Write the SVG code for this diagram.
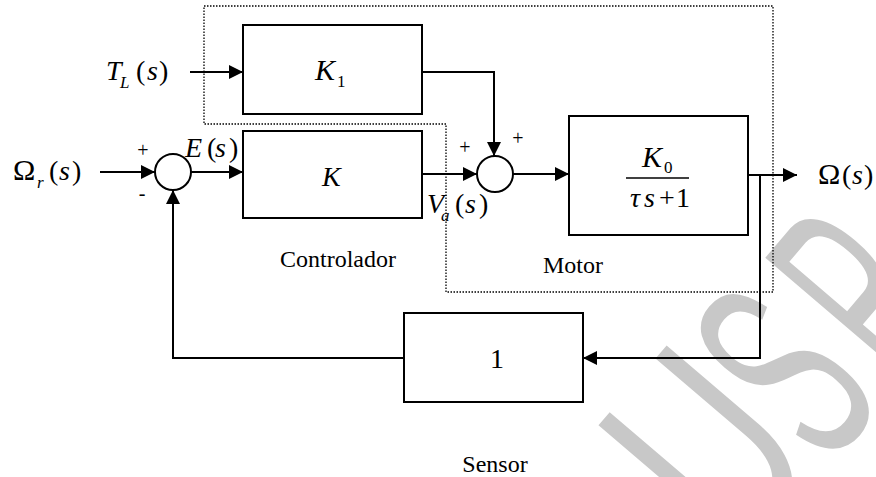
<svg xmlns="http://www.w3.org/2000/svg" width="876" height="477" viewBox="0 0 876 477">
<style>
.ln{fill:none;stroke:#000;stroke-width:2}
.bx{fill:none;stroke:#000;stroke-width:2}
.dot{fill:none;stroke:#000;stroke-width:1.3;stroke-dasharray:1.5 1.5}
.t{fill:#000;font-size:28px}
.i{font-style:italic}
.sub{font-size:17px}
.lbl{fill:#000;font-size:24px}
.sg{fill:#000;font-size:20px;text-anchor:middle}
.wm{font-size:280px;fill:#c8c8c8}
</style>
<defs>
<marker id="ah" viewBox="0 0 14 14" refX="14" refY="7" markerWidth="14" markerHeight="14" markerUnits="userSpaceOnUse" orient="auto"><path d="M0,0L14,7L0,14z" fill="#000"/></marker>
</defs>
<rect width="876" height="477" fill="#fff"/>
<g id="watermark" font-family="Liberation Sans, Arial, sans-serif">
<text class="wm" transform="translate(735.7,561.2) rotate(-49.5) scale(0.66,1)">U</text>
<text class="wm" transform="translate(827.1,469.6) rotate(-49.5) scale(0.5,1)" font-size="289">S</text>
<text class="wm" transform="translate(904.6,391.2) rotate(-49.5) scale(0.48,1)">P</text>
</g>
<g id="groups">
<path class="dot" d="M204,6H773V292H446V124H204Z"/>
</g>
<g id="connectors">
<path class="ln" d="M190,72H243" marker-end="url(#ah)"/>
<path class="ln" d="M422,72H494V156" marker-end="url(#ah)"/>
<path class="ln" d="M100,172H155" marker-end="url(#ah)"/>
<path class="ln" d="M191,172H243" marker-end="url(#ah)"/>
<path class="ln" d="M422,174H477" marker-end="url(#ah)"/>
<path class="ln" d="M513,174H569" marker-end="url(#ah)"/>
<path class="ln" d="M748,175H797" marker-end="url(#ah)"/>
<path class="ln" d="M760,175V358H583" marker-end="url(#ah)"/>
<path class="ln" d="M404,358H173V190" marker-end="url(#ah)"/>
</g>
<g id="nodes" font-family="Liberation Serif, DejaVu Serif, serif">
<g id="input-tl">
<text class="t"><tspan class="i" x="106" y="80">T</tspan><tspan class="i sub" x="120" y="88">L</tspan><tspan x="136" y="80">(</tspan><tspan class="i" x="147" y="80">s</tspan><tspan x="159" y="80">)</tspan></text>
</g>
<g id="input-omega-r">
<text class="t"><tspan x="13" y="180" font-size="30">Ω</tspan><tspan class="i sub" x="37" y="188">r</tspan><tspan x="49" y="180">(</tspan><tspan class="i" x="59" y="180">s</tspan><tspan x="72" y="180">)</tspan></text>
</g>
<g id="sum1">
<circle cx="173" cy="172" r="18" class="bx"/>
<text class="sg" x="143" y="157">+</text>
<text class="sg" x="142" y="200">-</text>
</g>
<g id="label-e">
<text class="t"><tspan class="i" x="185" y="157">E</tspan><tspan x="207" y="157">(</tspan><tspan class="i" x="215" y="157">s</tspan><tspan x="229" y="157">)</tspan></text>
</g>
<g id="k1">
<rect x="243" y="25" width="179" height="89" class="bx"/>
<text class="t"><tspan class="i" x="315" y="80" font-size="30">K</tspan><tspan class="sub" x="337" y="87">1</tspan></text>
</g>
<g id="k">
<rect x="243" y="131" width="179" height="87" class="bx"/>
<text class="t i" x="322" y="186" font-size="30">K</text>
<text class="lbl" x="280" y="267">Controlador</text>
</g>
<g id="label-va">
<text class="t"><tspan class="i" x="427" y="213">V</tspan><tspan class="i sub" x="441" y="221">a</tspan><tspan x="455" y="213">(</tspan><tspan class="i" x="465" y="213">s</tspan><tspan x="479" y="213">)</tspan></text>
</g>
<g id="sum2">
<circle cx="495" cy="174" r="18" class="bx"/>
<text class="sg" x="465" y="154">+</text>
<text class="sg" x="518" y="145">+</text>
</g>
<g id="motor">
<rect x="569" y="116" width="179" height="119" class="bx"/>
<text class="t"><tspan class="i" x="642" y="167" font-size="30">K</tspan><tspan class="sub" x="664" y="173">0</tspan></text>
<line x1="626" y1="178" x2="689" y2="178" stroke="#000" stroke-width="1.3"/>
<text class="t"><tspan class="i" x="630" y="207">τ</tspan><tspan class="i" x="644" y="207">s</tspan><tspan x="659" y="207">+</tspan><tspan x="676" y="207">1</tspan></text>
<text class="lbl" x="543" y="273">Motor</text>
</g>
<g id="output-omega">
<text class="t"><tspan x="818" y="184" font-size="30">Ω</tspan><tspan x="842" y="184">(</tspan><tspan class="i" x="852" y="184">s</tspan><tspan x="864" y="184">)</tspan></text>
</g>
<g id="sensor">
<rect x="404" y="313" width="179" height="89" class="bx"/>
<text class="t" x="497" y="368" text-anchor="middle">1</text>
<text class="lbl" x="495" y="472" text-anchor="middle">Sensor</text>
</g>
</g>
</svg>
